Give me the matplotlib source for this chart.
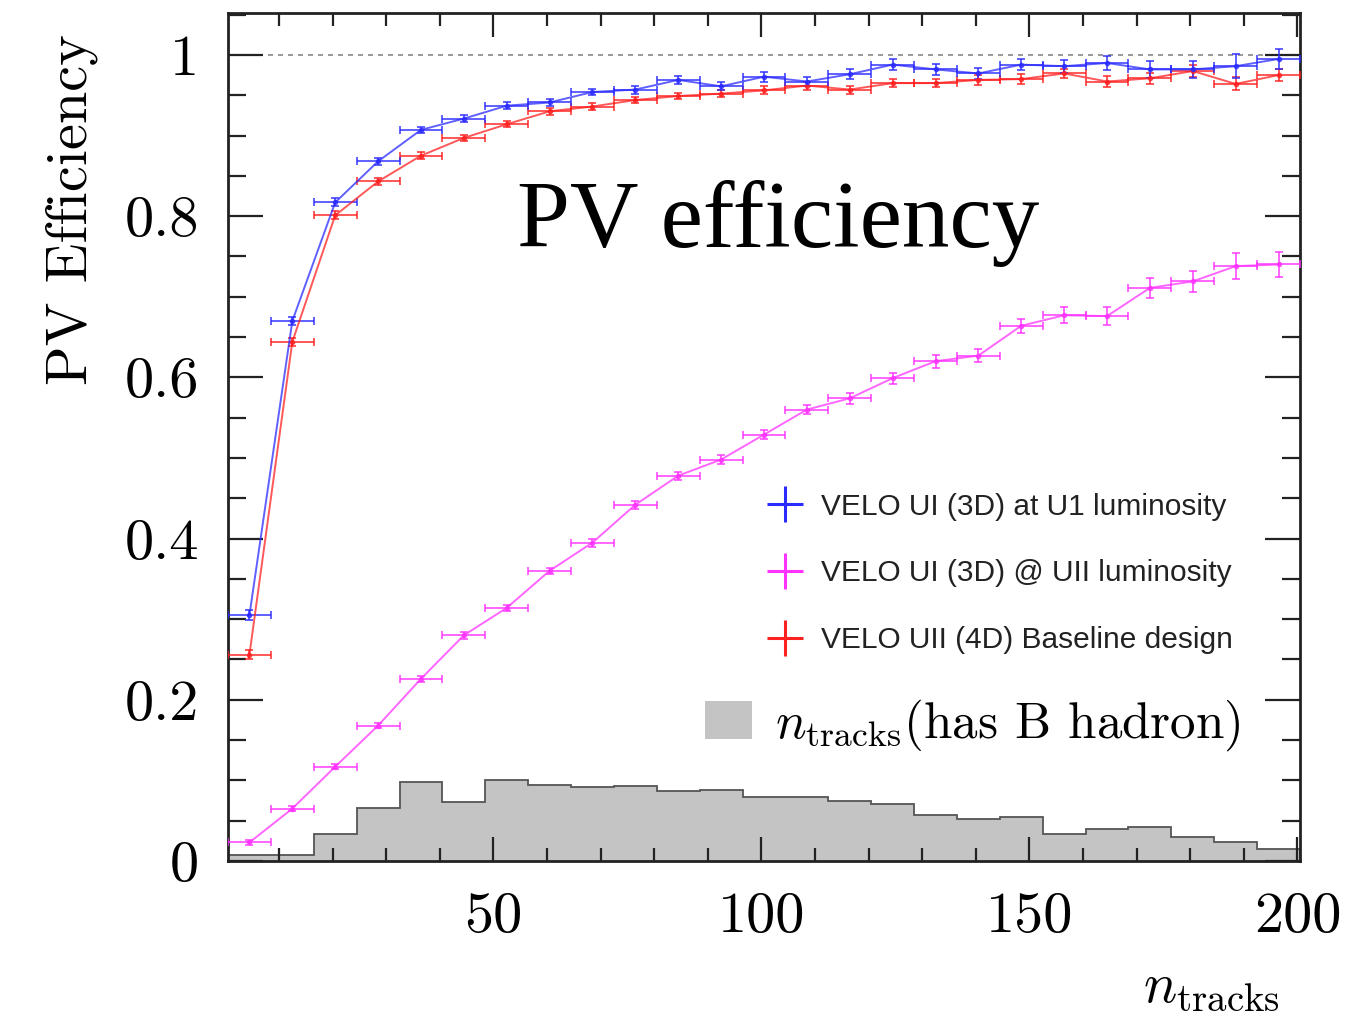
import numpy as np
import matplotlib
matplotlib.use("Agg")
import matplotlib.pyplot as plt
from matplotlib.lines import Line2D
from matplotlib.patches import Patch
from matplotlib.ticker import MultipleLocator, FuncFormatter

plt.rcParams['font.family'] = ['cmr10', 'DejaVu Serif']
plt.rcParams['mathtext.fontset'] = 'cm'
plt.rcParams['axes.formatter.use_mathtext'] = True

# ---------------- data ----------------
bin_edges = [0.5, 8.5, 16.5, 24.5, 32.5, 40.5, 48.5, 56.5, 64.5, 72.5, 80.5, 88.5, 96.5,
             104.5, 112.5, 120.5, 128.5, 136.5, 144.5, 152.5, 160.5, 168.5, 176.5,
             184.5, 192.5, 200.5]
bin_centers = [4.5, 12.5, 20.5, 28.5, 36.5, 44.5, 52.5, 60.5, 68.5, 76.5, 84.5, 92.5,
               100.5, 108.5, 116.5, 124.5, 132.5, 140.5, 148.5, 156.5, 164.5, 172.5,
               180.5, 188.5, 196.5]
bin_half_width = 4

eff_blue = [0.305, 0.670, 0.817, 0.868, 0.907, 0.921, 0.937, 0.941, 0.954, 0.957,
            0.969, 0.961, 0.973, 0.967, 0.976, 0.988, 0.982, 0.977, 0.988, 0.986,
            0.990, 0.982, 0.982, 0.986, 0.995]
err_blue = [0.006, 0.005, 0.005, 0.004, 0.004, 0.004, 0.004, 0.004, 0.004, 0.005,
            0.005, 0.005, 0.006, 0.006, 0.006, 0.007, 0.007, 0.007, 0.007, 0.008,
            0.009, 0.011, 0.011, 0.015, 0.012]

eff_red = [0.256, 0.644, 0.801, 0.843, 0.875, 0.897, 0.914, 0.930, 0.936, 0.944,
           0.949, 0.952, 0.956, 0.962, 0.957, 0.965, 0.965, 0.969, 0.970, 0.977,
           0.967, 0.971, 0.980, 0.964, 0.975]
err_red = [0.006, 0.005, 0.005, 0.004, 0.004, 0.004, 0.004, 0.004, 0.004, 0.004,
           0.004, 0.004, 0.005, 0.005, 0.005, 0.005, 0.005, 0.006, 0.006, 0.006,
           0.007, 0.007, 0.008, 0.008, 0.007]

eff_mag = [0.023, 0.065, 0.117, 0.168, 0.226, 0.280, 0.314, 0.360, 0.395, 0.442,
           0.478, 0.498, 0.529, 0.560, 0.574, 0.599, 0.620, 0.627, 0.664, 0.677,
           0.676, 0.711, 0.719, 0.738, 0.740]
err_mag = [0.003, 0.003, 0.003, 0.003, 0.004, 0.004, 0.004, 0.004, 0.005, 0.005,
           0.005, 0.006, 0.006, 0.006, 0.007, 0.007, 0.008, 0.008, 0.009, 0.010,
           0.011, 0.012, 0.013, 0.016, 0.016]

hist_b = [0.007, 0.007, 0.033, 0.066, 0.098, 0.073, 0.101, 0.094, 0.092, 0.093,
          0.087, 0.088, 0.080, 0.079, 0.075, 0.071, 0.057, 0.052, 0.055, 0.034,
          0.040, 0.042, 0.030, 0.023, 0.015]

labels = ["VELO UI (3D) at U1 luminosity",
          "VELO UI (3D) @ UII luminosity",
          "VELO UII (4D) Baseline design"]
hist_label = r"$n_{\rm tracks}$(has B hadron)"

# ---------------- figure ----------------
fig = plt.figure(figsize=(13.58, 10.11), dpi=100)
ax = fig.add_axes([228/1358, 1-861/1011, (1300-228)/1358, (861-13)/1011])

ax.stairs(hist_b, bin_edges, fill=True, color='#c4c4c4', zorder=1)
ax.stairs(hist_b, bin_edges, fill=False, color='#555555', lw=1.3, zorder=1.5)

ax.axhline(1.0, ls=(0, (3, 3)), color='#888888', lw=1.2, zorder=0.5)

series = [(eff_red, err_red, '#ff2020'), (eff_mag, err_mag, '#ff33ff'), (eff_blue, err_blue, '#2b2bff')]
for y, e, c in series:
    ax.errorbar(bin_centers, y, xerr=bin_half_width, yerr=e, fmt='o-', ms=3, color=c,
                lw=1.4, elinewidth=1.4, capsize=3, capthick=1.4, alpha=0.75, zorder=3)

ax.set_xlim(0.5, 200.5)
ax.set_ylim(0, 1.052)

ax.xaxis.set_major_locator(MultipleLocator(50))
ax.xaxis.set_minor_locator(MultipleLocator(10))
ax.yaxis.set_major_locator(MultipleLocator(0.2))
ax.yaxis.set_minor_locator(MultipleLocator(0.05))
fmt = FuncFormatter(lambda v, p: f"{v:g}")
ax.xaxis.set_major_formatter(fmt)
ax.yaxis.set_major_formatter(fmt)

ax.tick_params(which='both', direction='in', top=True, right=True, width=1.6, colors='#222222')
ax.tick_params(axis='y', which='major', length=25, pad=21, labelsize=42)
ax.tick_params(axis='y', which='minor', length=13)
ax.tick_params(axis='x', which='major', length=17, pad=22, labelsize=42)
ax.tick_params(axis='x', which='minor', length=9.5)
for lab in ax.get_xticklabels() + ax.get_yticklabels():
    lab.set_color('black')
for s in ax.spines.values():
    s.set_linewidth(2.0)
    s.set_color('#222222')

fig.text(72/1358, 1-210/1011, "PV Efficiency", rotation=90, ha='center', va='center', fontsize=42)
fig.text(1280/1358, 1-988/1011, r"$n_{\rm tracks}$", ha='right', va='center', fontsize=40)

fig.text(517/1358, 1-247/1011, "PV efficiency", family='Liberation Serif', fontsize=68.5,
         ha='left', va='baseline')

handles = [Line2D([], [], marker='+', ms=26, mew=2.2, color=c, ls='none')
           for c in ['#2b2bff', '#ff33ff', '#ff2020']]
leg1 = ax.legend(handles, labels, loc='upper left', bbox_to_anchor=(0.489, 0.452),
                 frameon=False, prop={'family': 'Liberation Sans', 'size': 21.5},
                 handlelength=1.2, handletextpad=0.6, labelspacing=1.3, borderpad=0)
for t in leg1.get_texts():
    t.set_color('#222222')
ax.add_artist(leg1)

leg2 = ax.legend([Patch(facecolor='#c4c4c4', edgecolor='none')], [hist_label],
                 loc='center left', bbox_to_anchor=(0.421, 0.160), frameon=False,
                 prop={'size': 36.8}, handlelength=0.92, handleheight=0.74,
                 handletextpad=0.45, borderpad=0)

fig.savefig("out.png", dpi=100)
